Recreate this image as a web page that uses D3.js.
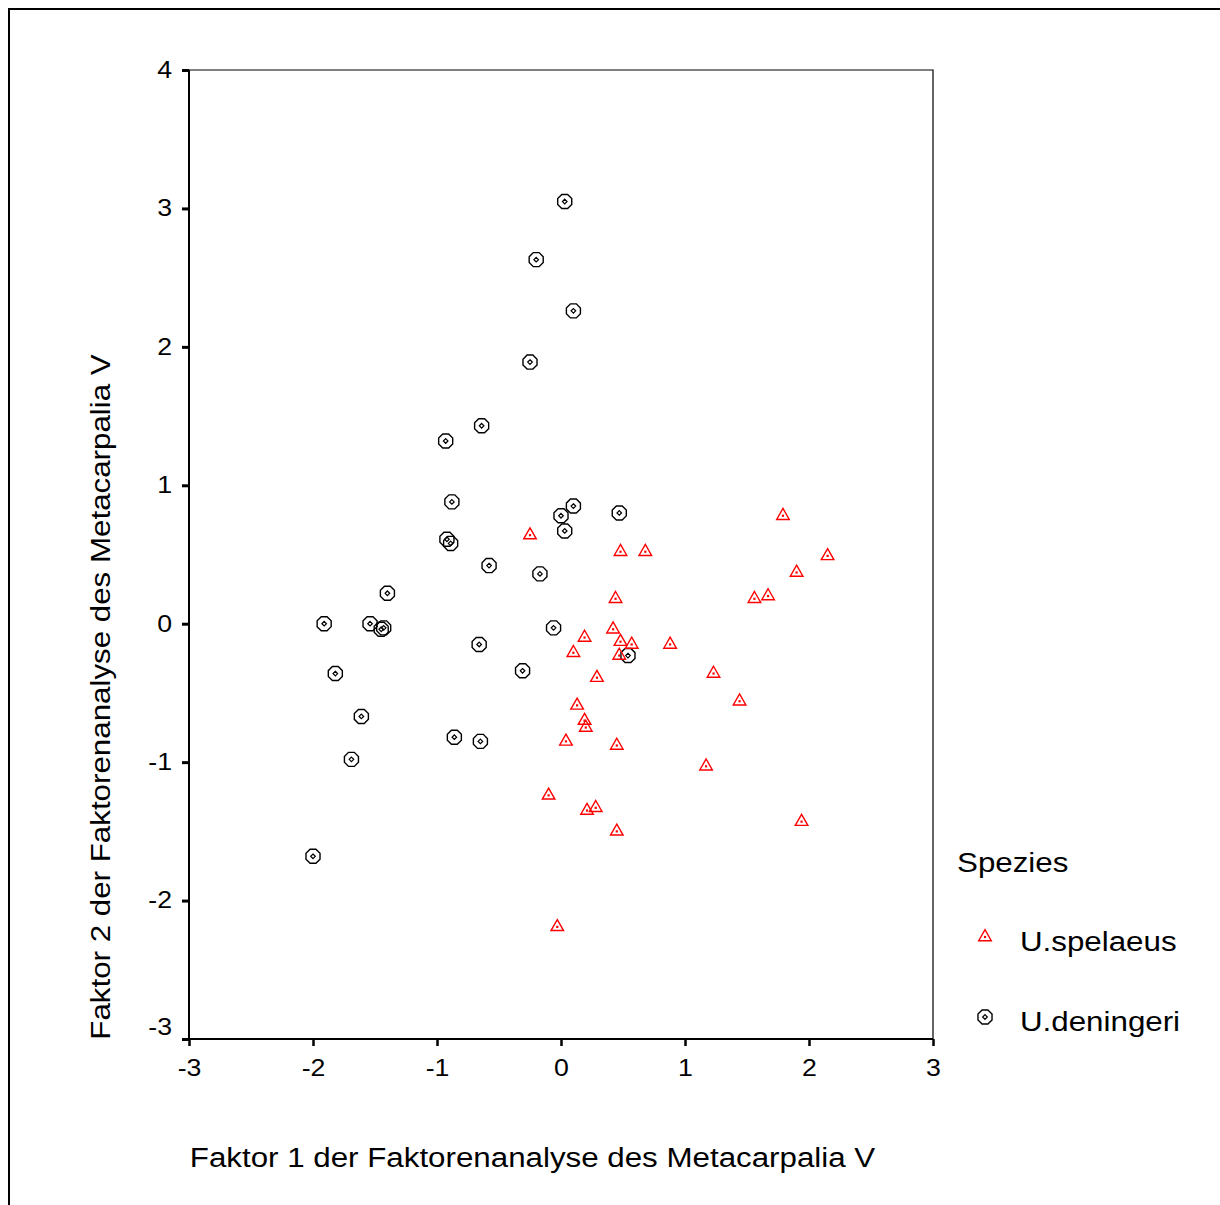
<!DOCTYPE html>
<html>
<head>
  <meta charset="utf-8">
  <style>
    body { margin: 0; background: #fff; }
    svg text { font-family: Arial, "Liberation Sans", sans-serif; fill: #000; }
    .tick-label { font-size: 23px; }
    .axis-title { font-size: 27px; }
    .legend-text { font-size: 27px; }
  </style>
  <script src="https://d3js.org/d3.v7.min.js"></script>
</head>
<body>
<div id="chart"></div>
<script>
  // Faktor 1 / Faktor 2 scores
  var spelaeusX = [-0.25, 0.48, 0.68, 1.79, 2.15, 1.90, 1.56, 1.67, 0.44, 0.42, 0.19, 0.48, 0.57, 0.88, 0.10, 0.47,
                   0.29, 1.23, 1.44, 0.13, 0.19, 0.20, 0.04, 0.45, 1.17, -0.10, 0.21, 0.28, 0.45, 1.94, -0.03];
  var spelaeusY = [0.64, 0.52, 0.52, 0.78, 0.49, 0.37, 0.18, 0.20, 0.18, -0.04, -0.10, -0.13, -0.15, -0.15, -0.21, -0.23,
                   -0.39, -0.36, -0.56, -0.59, -0.70, -0.75, -0.85, -0.88, -1.03, -1.24, -1.35, -1.33, -1.50, -1.43, -2.19];

  var deningeriX = [0.03, -0.20, 0.10, -0.25, -0.64, -0.93, -0.88, 0.10, 0.47, 0.00, 0.03, -0.92, -0.89, -0.58, -0.17,
                    -1.40, -1.91, -1.54, -1.45, -1.43, -0.06, -0.66, 0.54, -0.31, -1.82, -1.61, -0.86, -0.65, -1.69, -2.00];
  var deningeriY = [3.05, 2.63, 2.26, 1.89, 1.43, 1.32, 0.88, 0.85, 0.80, 0.78, 0.67, 0.61, 0.58, 0.42, 0.36,
                    0.22, 0.00, 0.00, -0.04, -0.03, -0.03, -0.15, -0.23, -0.34, -0.36, -0.67, -0.82, -0.85, -0.98, -1.68];

  var xTicks = [-3, -2, -1, 0, 1, 2, 3];
  var yTicks = [-3, -2, -1, 0, 1, 2, 3, 4];
  var groups = ["U.spelaeus", "U.deningeri"];
  var xTitle = "Faktor 1 der Faktorenanalyse des Metacarpalia V";
  var yTitle = "Faktor 2 der Faktorenanalyse des Metacarpalia V";

  var width = 1220, height = 1205;
  var plot = { left: 189, right: 933, top: 70, bottom: 1039 };
  var stretch = 1.16; // the original font is wider than Arial

  var svg = d3.select("#chart").append("svg")
    .attr("width", width)
    .attr("height", height);

  // outer frame (only top and left show in the crop)
  svg.append("path")
    .attr("d", "M9,1205 V9 H1220")
    .attr("fill", "none")
    .attr("stroke", "#000")
    .attr("stroke-width", 2);

  var x = d3.scaleLinear().domain([-3, 3]).range([plot.left, plot.right]);
  var y = d3.scaleLinear().domain([-3, 4]).range([plot.bottom, plot.top]);

  // top and right of the plot box
  svg.append("path")
    .attr("d", "M" + plot.left + "," + plot.top + " H" + plot.right + " V" + plot.bottom)
    .attr("fill", "none")
    .attr("stroke", "#000")
    .attr("stroke-width", 1.2);

  var fmt = function (d) { return String(d); };

  var xAxis = svg.append("g")
    .attr("transform", "translate(0," + plot.bottom + ")")
    .call(d3.axisBottom(x).tickValues(xTicks).tickSize(7).tickPadding(14).tickFormat(fmt));
  xAxis.select(".domain").attr("stroke-width", 2).attr("d", "M" + plot.left + ",0H" + plot.right);
  xAxis.selectAll(".tick line").attr("stroke-width", 2.5);
  xAxis.selectAll(".tick text")
    .attr("class", "tick-label").attr("font-family", null).attr("font-size", null)
    .attr("transform", "scale(" + stretch + ",1)")
    .attr("dy", "0.71em");

  var yAxis = svg.append("g")
    .attr("transform", "translate(" + plot.left + ",0)")
    .call(d3.axisLeft(y).tickValues(yTicks).tickSize(7).tickPadding(10).tickFormat(fmt));
  yAxis.select(".domain").attr("stroke-width", 2).attr("d", "M0," + plot.bottom + "V" + plot.top);
  yAxis.selectAll(".tick line").attr("stroke-width", 3);
  yAxis.selectAll(".tick text")
    .attr("class", "tick-label").attr("font-family", null).attr("font-size", null)
    .attr("x", -17 / stretch)
    .attr("y", function (d) { return d === -3 ? -12 : 0; })
    .attr("transform", "scale(" + stretch + ",1)");

  // marker shapes
  var triPath = "M0,-7.3 L6.3,3.7 L-6.3,3.7 Z";
  var octagon = d3.range(8).map(function (i) {
    var a = Math.PI / 8 + i * Math.PI / 4;
    return [7.6 * Math.cos(a), 7.6 * Math.sin(a)];
  });
  var octPath = "M" + octagon.join("L") + "Z";
  var diamond = "M0,-2.3 L2.3,0 L0,2.3 L-2.3,0 Z";

  function drawTriangle(g) {
    g.append("path").attr("d", triPath).attr("fill", "none").attr("stroke", "#ff0000").attr("stroke-width", 1.4);
    g.append("rect").attr("x", -1.1).attr("y", -1.1).attr("width", 2.2).attr("height", 2.2).attr("fill", "#ff0000");
  }
  function drawCircle(g) {
    g.append("path").attr("d", octPath).attr("fill", "none").attr("stroke", "#000").attr("stroke-width", 1.4);
    g.append("path").attr("d", diamond).attr("fill", "none").attr("stroke", "#000").attr("stroke-width", 1.2);
  }

  var spelaeus = spelaeusX.map(function (v, i) { return { x: v, y: spelaeusY[i] }; });
  var deningeri = deningeriX.map(function (v, i) { return { x: v, y: deningeriY[i] }; });

  svg.append("g").selectAll("g")
    .data(deningeri)
    .enter().append("g")
    .attr("transform", function (d) { return "translate(" + x(d.x) + "," + y(d.y) + ")"; })
    .each(function () { drawCircle(d3.select(this)); });

  svg.append("g").selectAll("g")
    .data(spelaeus)
    .enter().append("g")
    .attr("transform", function (d) { return "translate(" + x(d.x) + "," + y(d.y) + ")"; })
    .each(function () { drawTriangle(d3.select(this)); });

  // axis titles
  svg.append("text")
    .attr("class", "axis-title")
    .attr("transform", "translate(" + ((plot.left + 876) / 2) + ",1167) scale(" + stretch + ",1)")
    .attr("text-anchor", "middle")
    .text(xTitle);

  svg.append("text")
    .attr("class", "axis-title")
    .attr("transform", "translate(110,697) rotate(-90) scale(" + stretch + ",1)")
    .attr("text-anchor", "middle")
    .text(yTitle);

  // legend
  var legend = svg.append("g");
  legend.append("text").attr("class", "legend-text")
    .attr("transform", "translate(957,872) scale(" + stretch + ",1)")
    .text("Spezies");
  var items = legend.selectAll(".item")
    .data(groups)
    .enter().append("g")
    .attr("class", "item")
    .attr("transform", function (d, i) { return "translate(985," + (937 + i * 80) + ")"; });
  items.each(function (d, i) {
    if (i === 0) drawTriangle(d3.select(this));
    else drawCircle(d3.select(this));
  });
  items.append("text")
    .attr("class", "legend-text")
    .attr("transform", "translate(35,14) scale(" + stretch + ",1)")
    .text(function (d) { return d; });
</script>
</body>
</html>
